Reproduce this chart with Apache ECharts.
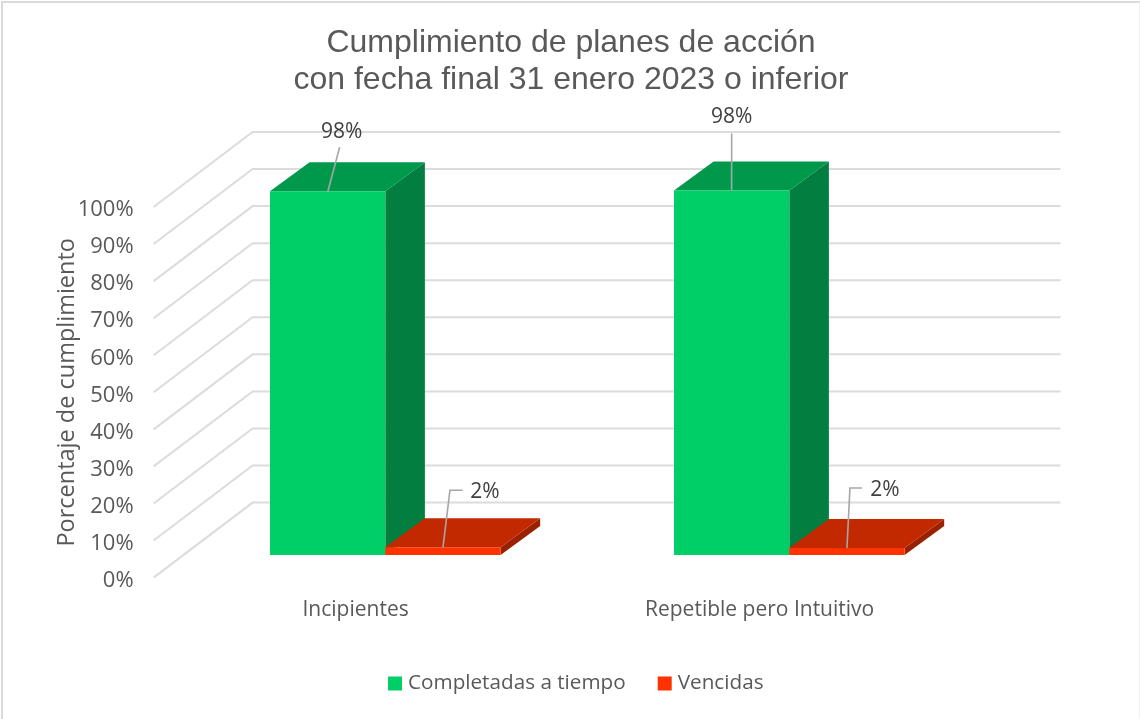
<!DOCTYPE html>
<html>
<head>
<meta charset="utf-8">
<script src="https://cdn.jsdelivr.net/npm/echarts@6/dist/echarts.min.js"></script>
<style>
html,body{margin:0;padding:0;background:#fff;overflow:hidden;}
#c{width:1140px;height:719px;}
#frame{position:absolute;left:1px;top:1px;width:1139px;height:720px;border-left:2px solid #DADADA;border-top:2px solid #DADADA;border-right:1px solid #F0F0F0;box-sizing:border-box;pointer-events:none;}
</style>
</head>
<body>
<div id="c"></div>
<div id="frame"></div>
<script>
const categories = ['Incipientes', 'Repetible pero Intuitivo'];
const completadas = [98.2, 98.4];
const vencidas = [2.1, 1.9];
const gridTicks = [0, 10, 20, 30, 40, 50, 60, 70, 80, 90, 100];
const seriesNames = ['Completadas a tiempo', 'Vencidas'];

const WALL_DX = 99, WALL_DY = -75;
const NEAR_DX = 29.7, NEAR_DY = -22.5;
const DEPTH_DX = 39.6, DEPTH_DY = -29;
const BAR_WIDTH_FRAC = 115.3 / 404;
const GREEN = {front: '#00CE67', top: '#00994C', side: '#027F40'};
const RED = {front: '#FF3300', top: '#C32900', side: '#992100'};
const SANS = '"Open Sans", "Noto Sans", sans-serif';
// leader geometry relative to the top-centre of each bar's front face
const leaders = {
  0: [{pts: [[0, 1], [12, -44]], text: [14, -59]}, {pts: [[0, 0], [0, -57]], text: [0, -73]}],
  1: [{pts: [[0, 0], [7, -57], [19.5, -57]], text: [42, -55]}, {pts: [[0, 0], [3, -60], [15, -60]], text: [38, -58]}]
};

function wallItem(params, api) {
  const cs = params.coordSys;
  const y = api.coord([0, api.value(1)])[1];
  return {
    type: 'polyline',
    silent: true,
    shape: {points: [[cs.x, y], [cs.x + WALL_DX, y + WALL_DY], [cs.x + cs.width + WALL_DX, y + WALL_DY]]},
    style: {stroke: '#DCDCDC', lineWidth: 2, fill: null}
  };
}

function barRenderer(colors, side, seriesIdx) {
  return function (params, api) {
    const cat = api.value(0), val = api.value(1);
    const base = api.coord([cat, 0]);
    const top = api.coord([cat, val]);
    const band = api.size([1, 0])[0];
    const w = band * BAR_WIDTH_FRAC;
    const x0 = base[0] + NEAR_DX + (side < 0 ? -w : 0);
    const x1 = x0 + w;
    const yT = top[1] + NEAR_DY, yB = base[1] + NEAR_DY;
    const ddx = DEPTH_DX, ddy = DEPTH_DY;
    const leader = leaders[seriesIdx][params.dataIndex];
    const ax = (x0 + x1) / 2, ay = yT;
    return {
      type: 'group',
      children: [
        {type: 'polygon', shape: {points: [[x1, yT], [x1 + ddx, yT + ddy], [x1 + ddx, yB + ddy], [x1, yB]]}, style: {fill: colors.side}},
        {type: 'polygon', shape: {points: [[x0, yT], [x0 + ddx, yT + ddy], [x1 + ddx, yT + ddy], [x1, yT]]}, style: {fill: colors.top}},
        {type: 'rect', shape: {x: x0, y: yT, width: w, height: yB - yT}, style: {fill: colors.front}},
        {type: 'polyline', shape: {points: leader.pts.map(p => [ax + p[0], ay + p[1]])}, style: {stroke: '#A6A6A6', lineWidth: 1.6, fill: null}, z2: 5},
        {type: 'text', x: ax + leader.text[0], y: ay + leader.text[1], z2: 6,
          style: {text: Math.round(val) + '%', fill: '#404040', font: '21px ' + SANS, align: 'center', verticalAlign: 'middle'}}
      ]
    };
  };
}

const chart = echarts.init(document.getElementById('c'), null, {renderer: 'canvas'});
chart.setOption({
  animation: false,
  backgroundColor: '#fff',
  title: {
    text: 'Cumplimiento de planes de acción\ncon fecha final 31 enero 2023 o inferior',
    left: 566, top: 20, textAlign: 'center',
    textStyle: {fontFamily: '"Liberation Sans", Arial, sans-serif', fontWeight: 'normal', fontSize: 32, color: '#595959', lineHeight: 37}
  },
  legend: {
    left: 383, top: 668, itemWidth: 14, itemHeight: 14, itemGap: 32, icon: 'rect',
    data: seriesNames,
    textStyle: {fontFamily: SANS, fontSize: 20.7, color: '#595959', padding: [0, 0, 0, 1]}
  },
  grid: {left: 153.6, top: 207, width: 808, height: 370.6, containLabel: false},
  xAxis: {
    type: 'category', data: categories,
    axisLine: {show: false}, axisTick: {show: false},
    axisLabel: {fontFamily: SANS, fontSize: 21, color: '#595959', margin: 22}
  },
  yAxis: {
    type: 'value', min: 0, max: 100, interval: 10,
    name: 'Porcentaje de cumplimiento', nameLocation: 'middle', nameGap: 74, nameRotate: 90, nameMoveOverlap: false,
    nameTextStyle: {fontFamily: SANS, fontSize: 23.5, color: '#595959'},
    axisLine: {show: false}, axisTick: {show: false}, splitLine: {show: false},
    axisLabel: {fontFamily: SANS, fontSize: 22, color: '#595959', margin: 20, verticalAlign: 'top', lineHeight: 6, formatter: '{value}%'}
  },
  series: [
    {type: 'custom', name: 'walls', silent: true, z: 1, clip: false, renderItem: wallItem,
      encode: {x: 0, y: 1}, data: gridTicks.map(v => [0, v])},
    {type: 'custom', name: seriesNames[0], z: 2, clip: false, itemStyle: {color: GREEN.front},
      renderItem: barRenderer(GREEN, -1, 0), encode: {x: 0, y: 1},
      data: completadas.map((v, i) => [i, v])},
    {type: 'custom', name: seriesNames[1], z: 3, clip: false, itemStyle: {color: RED.front},
      renderItem: barRenderer(RED, 1, 1), encode: {x: 0, y: 1},
      data: vencidas.map((v, i) => [i, v])}
  ]
});
</script>
</body>
</html>
